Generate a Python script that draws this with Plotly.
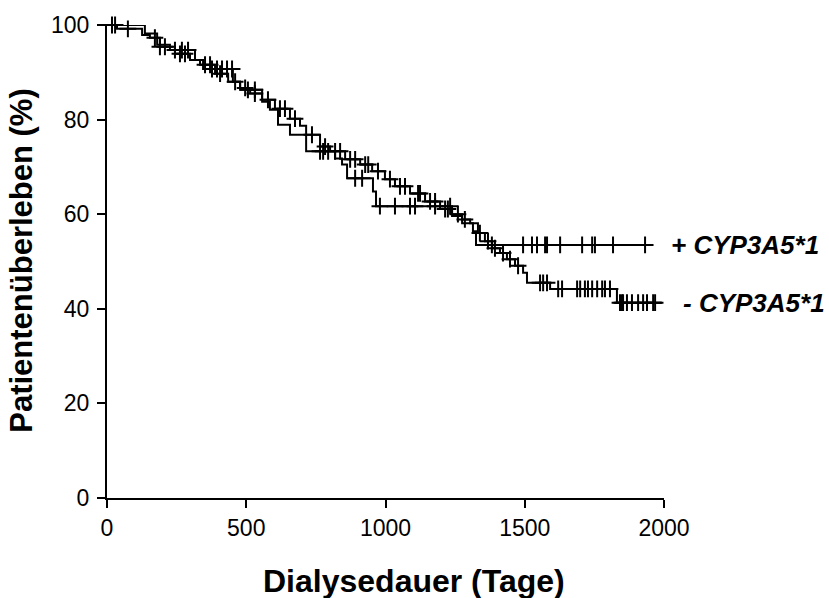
import numpy as np
import plotly.graph_objects as go

# ---------------- data ----------------
x_ticks = [0, 500, 1000, 1500, 2000]
y_ticks = [0, 20, 40, 60, 80, 100]

# + CYP3A5*1 group: step times (days) and survival (%) after each step
pos_time = [0, 136, 180, 226, 316, 345, 452, 478, 557, 585, 614, 657, 715,
            819, 844, 862, 955, 966, 1239, 1275, 1314, 1325]
pos_surv = [100, 98.2, 95.8, 94.7, 92.6, 90.7, 88.0, 86.3, 83.8, 82.1, 78.9,
            76.8, 73.3, 71.8, 70.5, 67.6, 64.8, 61.7, 59.6, 58.1, 56.4, 53.5]
pos_end = 1961
pos_censor = [18, 29, 244, 269, 291, 377, 395, 413, 431, 449, 506, 531,
              765, 776, 794, 891, 916, 980, 1034, 1088, 1106, 1178, 1232,
              1382, 1494, 1526, 1544, 1573, 1580, 1627, 1706, 1742, 1752,
              1817, 1932]

# - CYP3A5*1 group
neg_time = [0, 36, 126, 154, 190, 244, 298, 334, 388, 435, 478, 514, 557,
            603, 657, 693, 715, 765, 801, 855, 909, 952, 998, 1034, 1088,
            1142, 1196, 1239, 1275, 1304, 1332, 1357, 1383, 1411, 1436, 1465,
            1494, 1508, 1591, 1831]
neg_surv = [100, 99.2, 97.9, 97.3, 95.4, 93.9, 92.6, 91.6, 89.7, 88.0, 86.7,
            85.5, 84.2, 82.3, 80.2, 78.7, 76.8, 74.3, 73.3, 71.6, 70.5, 69.1,
            67.4, 65.9, 64.4, 62.7, 61.1, 60.0, 58.9, 58.1, 56.0, 54.3, 52.8,
            51.8, 50.5, 49.1, 47.6, 45.5, 44.2, 41.3]
neg_end = 1993
neg_censor = [75, 172, 190, 208, 262, 280, 352, 370, 406, 460, 496, 531, 578,
              621, 639, 675, 736, 783, 819, 837, 873, 891, 927, 938, 973,
              1016, 1052, 1070, 1117, 1124, 1160, 1178, 1214, 1224, 1260,
              1285, 1339, 1368, 1393, 1422, 1447, 1476, 1555, 1566, 1580,
              1620, 1634, 1688, 1699, 1716, 1727, 1742, 1760, 1778, 1788,
              1806, 1842, 1849, 1853, 1867, 1885, 1907, 1925, 1939, 1961,
              1968]

labels = ["+ CYP3A5*1", "- CYP3A5*1"]

FONT = "Liberation Sans, Arial, Helvetica, sans-serif"


def step_value(times, surv, t):
    idx = np.searchsorted(np.array(times), np.array(t), side="right") - 1
    return np.array(surv)[idx]


fig = go.Figure()

for times, surv, end, cens in [(pos_time, pos_surv, pos_end, pos_censor),
                               (neg_time, neg_surv, neg_end, neg_censor)]:
    fig.add_trace(go.Scatter(
        x=list(times) + [end], y=list(surv) + [surv[-1]],
        mode="lines", line=dict(color="black", width=2, shape="hv"),
        showlegend=False, hoverinfo="skip", cliponaxis=False))
    fig.add_trace(go.Scatter(
        x=cens, y=step_value(times, surv, cens),
        mode="markers",
        marker=dict(symbol="cross-thin", size=12, color="black",
                    line=dict(color="black", width=2)),
        showlegend=False, hoverinfo="skip", cliponaxis=False))

axis_common = dict(
    showline=True, linecolor="black", linewidth=2,
    ticks="outside", ticklen=8, tickwidth=2, tickcolor="black",
    showgrid=False, zeroline=False,
    tickfont=dict(family=FONT, size=23, color="black"),
)

fig.update_layout(
    width=829, height=598,
    margin=dict(l=107, r=165, t=23, b=100),
    paper_bgcolor="white", plot_bgcolor="white",
    xaxis=dict(range=[0, 2000], tickvals=x_ticks, **axis_common),
    yaxis=dict(range=[0, 100], tickvals=y_ticks, ticklabelstandoff=3,
               **axis_common),
    showlegend=False,
)

# axis titles
fig.add_annotation(text="<b>Dialysedauer (Tage)</b>", xref="paper", yref="paper",
                   x=0.552, y=-0.175, xanchor="center", yanchor="middle",
                   showarrow=False, font=dict(family=FONT, size=32, color="black"))
fig.add_annotation(text="<b>Patientenüberleben (%)</b>", xref="paper", yref="paper",
                   x=-0.155, y=0.503, xanchor="center", yanchor="middle",
                   textangle=-90, showarrow=False,
                   font=dict(family=FONT, size=31, color="black"))

# group labels
fig.add_annotation(text="<b><i>" + labels[0] + "</i></b>", xref="paper", yref="y",
                   x=1.009, y=pos_surv[-1], xanchor="left", yanchor="middle",
                   showarrow=False, font=dict(family=FONT, size=26, color="black"))
fig.add_annotation(text="<b><i>" + labels[1] + "</i></b>", xref="paper", yref="y",
                   x=1.03, y=neg_surv[-1], xanchor="left", yanchor="middle",
                   showarrow=False, font=dict(family=FONT, size=26, color="black"))

fig.write_html("out.html", config={"displayModeBar": False},
               post_script="document.body.style.margin='0';")
